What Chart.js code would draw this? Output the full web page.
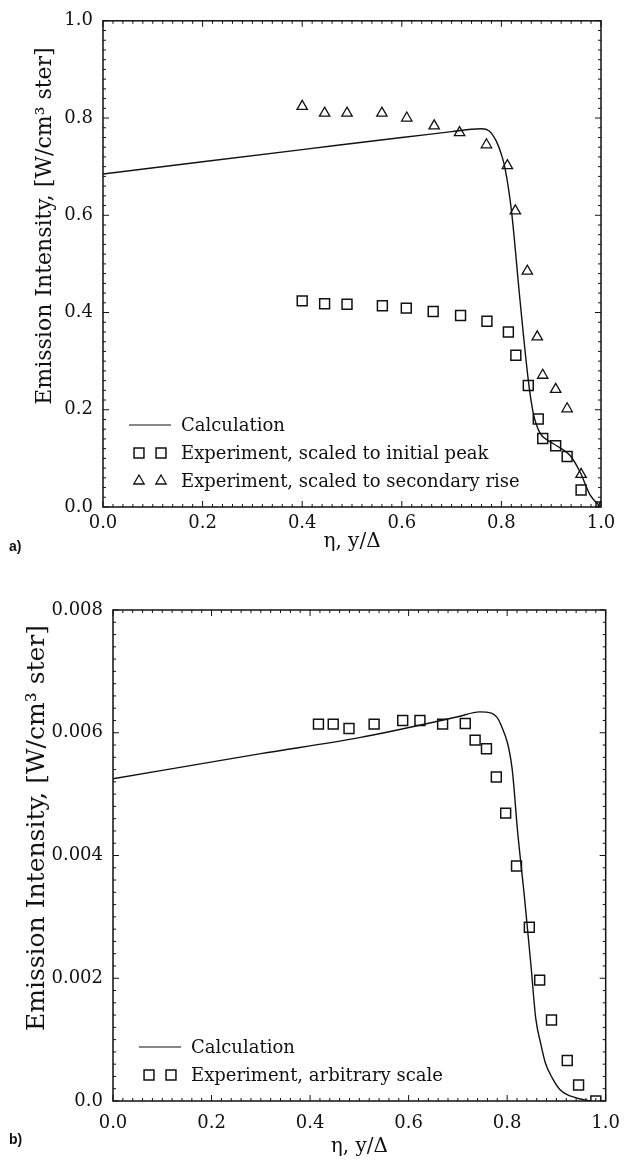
<!DOCTYPE html>
<html>
<head>
<meta charset="utf-8">
<script src="https://cdn.jsdelivr.net/npm/chart.js@4.4.0/dist/chart.umd.min.js"></script>
<style>
  body { margin: 0; background: #fff; width: 632px; height: 1161px; position: relative; overflow: hidden; }
  .box { position: absolute; left: 0; width: 632px; }
  #boxA { top: 0; height: 560px; }
  #boxB { top: 560px; height: 601px; }
  .tag { position: absolute; left: 9px; font: bold 14px "Liberation Sans", Arial, sans-serif; color: #111; }
</style>
</head>
<body>
<div class="box" id="boxA"><canvas id="chartA" width="632" height="560"></canvas></div>
<div class="box" id="boxB"><canvas id="chartB" width="632" height="601"></canvas></div>
<div class="tag" style="top:538px">a)</div>
<div class="tag" style="top:1131px">b)</div>
<script>
// ---- panel a) data ----
const calcAX = [0, 0.2, 0.4, 0.6, 0.7, 0.74, 0.76, 0.775, 0.79, 0.80, 0.807, 0.82, 0.837, 0.854, 0.864, 0.877, 0.895, 0.911, 0.938, 0.958, 0.978, 1.0];
const calcAY = [0.685, 0.71, 0.735, 0.760, 0.772, 0.777, 0.778, 0.774, 0.752, 0.725, 0.698, 0.611, 0.429, 0.261, 0.193, 0.153, 0.136, 0.126, 0.106, 0.072, 0.025, 0.0];
const peakX = [0.40, 0.445, 0.49, 0.561, 0.609, 0.663, 0.718, 0.771, 0.814, 0.829, 0.854, 0.874, 0.883, 0.909, 0.932, 0.960, 1.0];
const peakY = [0.424, 0.418, 0.417, 0.414, 0.409, 0.402, 0.394, 0.382, 0.360, 0.312, 0.250, 0.181, 0.141, 0.126, 0.104, 0.035, 0.0];
const riseX = [0.40, 0.445, 0.49, 0.56, 0.61, 0.665, 0.716, 0.770, 0.812, 0.828, 0.852, 0.872, 0.883, 0.909, 0.932, 0.960, 1.0];
const riseY = [0.824, 0.81, 0.81, 0.81, 0.80, 0.784, 0.770, 0.745, 0.702, 0.609, 0.485, 0.350, 0.271, 0.242, 0.202, 0.067, 0.0];

// ---- panel b) data ----
const calcBX = [0, 0.3, 0.5, 0.7, 0.744, 0.768, 0.788, 0.81, 0.821, 0.835, 0.848, 0.858, 0.868, 0.878, 0.892, 0.908, 0.94, 0.97];
const calcBY = [0.00525, 0.00566, 0.00592, 0.00626, 0.00634, 0.00632, 0.00612, 0.00542, 0.00441, 0.00333, 0.00224, 0.00135, 0.00094, 0.00061, 0.00037, 0.00018, 0.00005, 0.0];
const expBX = [0.417, 0.447, 0.479, 0.530, 0.588, 0.623, 0.669, 0.715, 0.735, 0.758, 0.778, 0.797, 0.819, 0.845, 0.866, 0.890, 0.922, 0.945, 0.98];
const expBY = [0.00614, 0.00614, 0.00607, 0.00614, 0.0062, 0.0062, 0.00614, 0.00615, 0.00588, 0.00574, 0.00528, 0.00469, 0.00383, 0.00283, 0.00197, 0.00132, 0.00066, 0.00026, 0.0];

const xTicksLabel = v => v.toFixed(1);
const yTicksA = v => v.toFixed(1);
const yTicksB = v => (v === 0 ? '0.0' : v.toFixed(3));
const yTitle = 'Emission Intensity, [W/cm³ ster]';

const SERIF = '"DejaVu Serif", "Liberation Serif", serif';
const INK = '#111';

function pts(xs, ys) { return xs.map((x, i) => ({ x: x, y: ys[i] })); }

// frame with inward ticks on all four sides, y title, and the in-plot legend
const framePlugin = {
  id: 'frame',
  afterDatasetsDraw(chart, args, o) {
    const { ctx, chartArea: a, scales } = chart;
    const xs = scales.x, ys = scales.y;
    ctx.save();
    ctx.strokeStyle = INK;
    ctx.lineWidth = 1.5;
    ctx.strokeRect(a.left, a.top, a.right - a.left, a.bottom - a.top);
    ctx.lineWidth = 1;
    ctx.beginPath();
    let n = Math.round((xs.max - xs.min) / o.xMinor), every = Math.round(o.xMajor / o.xMinor);
    for (let i = 0; i <= n; i++) {
      const px = xs.getPixelForValue(xs.min + i * o.xMinor);
      const len = i % every === 0 ? 6 : 3;
      ctx.moveTo(px, a.bottom); ctx.lineTo(px, a.bottom - len);
      ctx.moveTo(px, a.top); ctx.lineTo(px, a.top + len);
    }
    n = Math.round((ys.max - ys.min) / o.yMinor); every = Math.round(o.yMajor / o.yMinor);
    for (let i = 0; i <= n; i++) {
      const py = ys.getPixelForValue(ys.min + i * o.yMinor);
      const len = i % every === 0 ? 6 : 3;
      ctx.moveTo(a.left, py); ctx.lineTo(a.left + len, py);
      ctx.moveTo(a.right, py); ctx.lineTo(a.right - len, py);
    }
    ctx.stroke();

    // rotated y-axis title
    ctx.save();
    ctx.translate(o.titleX, o.titleY);
    ctx.rotate(-Math.PI / 2);
    ctx.font = o.titleSize + 'px ' + SERIF;
    ctx.fillStyle = INK;
    ctx.textAlign = 'center';
    ctx.textBaseline = 'middle';
    ctx.fillText(yTitle, 0, 0);
    ctx.restore();

    // legend
    const x0 = a.left + 26;
    const rows = chart.data.datasets.length;
    ctx.font = '18px ' + SERIF;
    ctx.fillStyle = INK;
    ctx.textBaseline = 'middle';
    chart.data.datasets.forEach((ds, i) => {
      const y = a.bottom - 26 - (rows - 1 - i) * 28;
      ctx.strokeStyle = INK;
      if (ds.showLine) {
        ctx.lineWidth = 1.2;
        ctx.beginPath(); ctx.moveTo(x0, y); ctx.lineTo(x0 + 42, y); ctx.stroke();
      } else {
        ctx.lineWidth = ds.pointBorderWidth;
        ctx.fillStyle = 'rgba(0,0,0,0)';
        [x0 + 10, x0 + 32].forEach(px => {
          Chart.helpers.drawPoint(ctx, { pointStyle: ds.pointStyle, radius: ds.pointRadius, rotation: 0, borderWidth: ds.pointBorderWidth }, px, y);
        });
        ctx.fillStyle = INK;
      }
      ctx.fillText(ds.label, x0 + 52, y + 1);
    });
    ctx.restore();
  }
};

function axis(opts) {
  return {
    type: 'linear',
    min: opts.min, max: opts.max,
    grid: { display: false, drawTicks: false },
    border: { display: false },
    ticks: { stepSize: opts.step, callback: opts.cb, color: INK, font: { family: SERIF, size: 18 }, padding: opts.pad, maxRotation: 0 },
    title: opts.title ? { display: true, text: opts.title, color: INK, font: { family: SERIF, size: 20 }, padding: opts.titlePad } : { display: false },
    afterFit: opts.fit
  };
}

function makeChart(id, datasets, cfg) {
  return new Chart(document.getElementById(id), {
    type: 'scatter',
    data: { datasets: datasets },
    options: {
      responsive: false,
      animation: false,
      layout: { padding: { top: cfg.padTop, right: cfg.padRight, left: 0, bottom: 0 } },
      plugins: { legend: { display: false }, tooltip: { enabled: false }, frame: cfg.frame },
      scales: {
        x: axis({ min: 0, max: 1, step: 0.2, cb: xTicksLabel, pad: cfg.xPad, title: 'η, y/Δ',
                  titlePad: { top: 0, bottom: cfg.xTitleBottom }, fit: s => { s.height = cfg.xHeight; } }),
        y: axis({ min: 0, max: cfg.yMax, step: cfg.yStep, cb: cfg.yCb, pad: 10,
                  fit: s => { s.width = cfg.yWidth; } })
      }
    },
    plugins: [framePlugin]
  });
}

const lineStyle = { showLine: true, pointRadius: 0, borderColor: INK, borderWidth: 1.4, cubicInterpolationMode: 'monotone', fill: false };
const squareStyle = { pointStyle: 'rect', pointRadius: 7, pointBorderWidth: 1.5, pointBorderColor: INK, pointBackgroundColor: 'rgba(0,0,0,0)', showLine: false };
const triStyle = { pointStyle: 'triangle', pointRadius: 6, pointBorderWidth: 1.3, pointBorderColor: INK, pointBackgroundColor: 'rgba(0,0,0,0)', showLine: false };

makeChart('chartA', [
  Object.assign({ label: 'Calculation', data: pts(calcAX, calcAY) }, lineStyle),
  Object.assign({ label: 'Experiment, scaled to initial peak', data: pts(peakX, peakY) }, squareStyle),
  Object.assign({ label: 'Experiment, scaled to secondary rise', data: pts(riseX, riseY) }, triStyle)
], {
  padTop: 15, padRight: 31, xHeight: 53, yWidth: 103, xPad: 6, xTitleBottom: 6,
  yMax: 1.0, yStep: 0.2, yCb: yTicksA,
  frame: { xMinor: 0.02, xMajor: 0.2, yMinor: 0.02, yMajor: 0.2, titleX: 45, titleY: 226, titleSize: 22 }
});

makeChart('chartB', [
  Object.assign({ label: 'Calculation', data: pts(calcBX, calcBY) }, lineStyle),
  Object.assign({ label: 'Experiment, arbitrary scale', data: pts(expBX, expBY) }, squareStyle)
], {
  padTop: 50, padRight: 22, xHeight: 60, yWidth: 113, xPad: 12, xTitleBottom: 2,
  yMax: 0.008, yStep: 0.002, yCb: yTicksB,
  frame: { xMinor: 0.02, xMajor: 0.2, yMinor: 0.0002, yMajor: 0.002, titleX: 37, titleY: 268, titleSize: 25 }
});
</script>
</body>
</html>
